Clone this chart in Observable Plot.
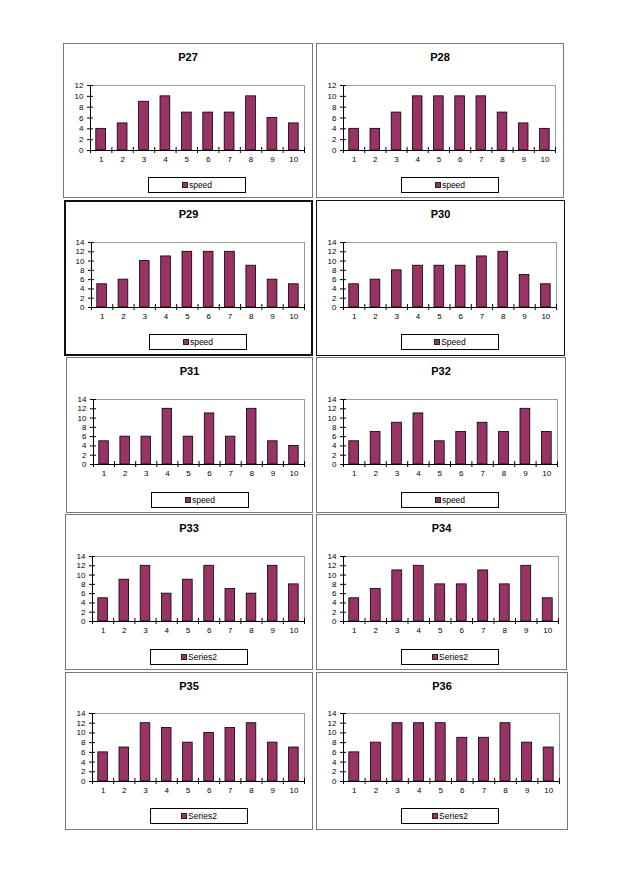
<!DOCTYPE html>
<html><head><meta charset="utf-8">
<script src="https://cdn.jsdelivr.net/npm/d3@7"></script>
<script src="https://cdn.jsdelivr.net/npm/@observablehq/plot@0.6"></script>
<style>
body{margin:0;background:#fff;width:629px;height:893px;position:relative;overflow:hidden;font-family:"Liberation Sans",Arial,sans-serif}
.panel{position:absolute;box-sizing:border-box;background:#fff}
.panel svg{position:absolute;left:0;top:0}
.title{position:absolute;left:0;right:0;text-align:center;font-weight:bold;font-size:11px;line-height:12px;color:#000}
.legend{position:absolute;border:1px solid #000;box-sizing:border-box;display:flex;align-items:center;justify-content:center;font-size:8.5px;color:#000;background:#fff}
.sw{width:4px;height:4px;background:#993366;border:1px solid #222;margin-right:1px}
</style></head><body>
<script>
const categories = [1, 2, 3, 4, 5, 6, 7, 8, 9, 10];
const titles = ["P27", "P28", "P29", "P30", "P31", "P32", "P33", "P34", "P35", "P36"];
const legendLabels = ["speed", "speed", "speed", "Speed", "speed", "speed", "Series2", "Series2", "Series2", "Series2"];
const yMaxes = [12, 12, 14, 14, 14, 14, 14, 14, 14, 14];
const p27 = [4, 5, 9, 10, 7, 7, 7, 10, 6, 5];
const p28 = [4, 4, 7, 10, 10, 10, 10, 7, 5, 4];
const p29 = [5, 6, 10, 11, 12, 12, 12, 9, 6, 5];
const p30 = [5, 6, 8, 9, 9, 9, 11, 12, 7, 5];
const p31 = [5, 6, 6, 12, 6, 11, 6, 12, 5, 4];
const p32 = [5, 7, 9, 11, 5, 7, 9, 7, 12, 7];
const p33 = [5, 9, 12, 6, 9, 12, 7, 6, 12, 8];
const p34 = [5, 7, 11, 12, 8, 8, 11, 8, 12, 5];
const p35 = [6, 7, 12, 11, 8, 10, 11, 12, 8, 7];
const p36 = [6, 8, 12, 12, 12, 9, 9, 12, 8, 7];
const seriesList = [p27, p28, p29, p30, p31, p32, p33, p34, p35, p36];

// layout: [left, top, width, height, border]
const layout = [
  [63, 43, 250, 155, "1px solid #777"], [316, 43, 248, 155, "1px solid #777"],
  [64, 200, 249, 156, "2px solid #111"], [316, 200, 249, 156, "1px solid #111"],
  [66, 357, 247, 156, "1px solid #777"], [316, 357, 250, 156, "1px solid #777"],
  [65, 514, 248, 156, "1px solid #777"], [316, 514, 251, 156, "1px solid #777"],
  [65, 672, 248, 158, "1px solid #777"], [316, 672, 252, 158, "1px solid #777"]
];
// per row: plot top, zero line, legend top
const rowGeom = [[42, 107, 134], [42, 107, 134], [42, 107, 135], [42, 107, 135], [41, 109, 136]];

seriesList.forEach((vals, i) => {
  const [L, T, W, H, border] = layout[i];
  const row = Math.floor(i / 2);
  const [pTop, zero, legTop] = rowGeom[row];
  const bw = parseFloat(border);
  const panel = document.createElement("div");
  panel.className = "panel";
  Object.assign(panel.style, {left: L + "px", top: T + "px", width: W + "px", height: H + "px", border});
  document.body.appendChild(panel);

  const iw = W - 2 * bw, ih = H - 2 * bw;
  const data = categories.map((c, k) => ({c, v: vals[k]}));
  const ymax = yMaxes[i];
  const yt = d3.range(0, ymax + 1, 2);
  const right = W - 9;
  const chart = Plot.plot({
    width: iw, height: ih,
    marginLeft: 27 - bw, marginRight: iw - (right - bw), marginTop: pTop - bw, marginBottom: ih - (zero - bw),
    x: {domain: [0.5, 10.5], axis: null},
    y: {domain: [0, ymax], axis: null},
    style: {fontFamily: "'Liberation Sans', Arial, sans-serif", fontSize: "8px", color: "#000", background: "transparent", overflow: "visible"},
    marks: [
      Plot.frame({stroke: "#9a9a9a"}),
      Plot.rectY(data, {x1: d => d.c - 0.5, x2: d => d.c + 0.5, y: "v", insetLeft: 5.8, insetRight: 5.8, fill: "#993366", stroke: "#000", strokeWidth: 0.8}),
      Plot.ruleX([0.5], {stroke: "#000"}),
      Plot.ruleY([0], {stroke: "#000"}),
      Plot.axisY({ticks: yt, tickSize: 0, tickPadding: 7, label: null}),
      Plot.axisY({ticks: yt, tickSize: 6, dx: 3, tickFormat: () => "", label: null}),
      Plot.axisX({ticks: categories, tickSize: 0, tickPadding: 6, label: null}),
      Plot.axisX({ticks: d3.range(0.5, 11, 1), tickSize: 6, dy: -3, tickFormat: () => "", label: null})
    ]
  });
  panel.appendChild(chart);

  const t = document.createElement("div");
  t.className = "title";
  t.style.top = (14 - 6 - bw) + "px";
  t.textContent = titles[i];
  panel.appendChild(t);

  const lg = document.createElement("div");
  lg.className = "legend";
  Object.assign(lg.style, {left: (85 - bw) + "px", top: (legTop - bw) + "px", width: "98px", height: "16px"});
  const sw = document.createElement("span");
  sw.className = "sw";
  const tx = document.createElement("span");
  tx.textContent = legendLabels[i];
  lg.appendChild(sw); lg.appendChild(tx);
  panel.appendChild(lg);
});
</script>
</body></html>
